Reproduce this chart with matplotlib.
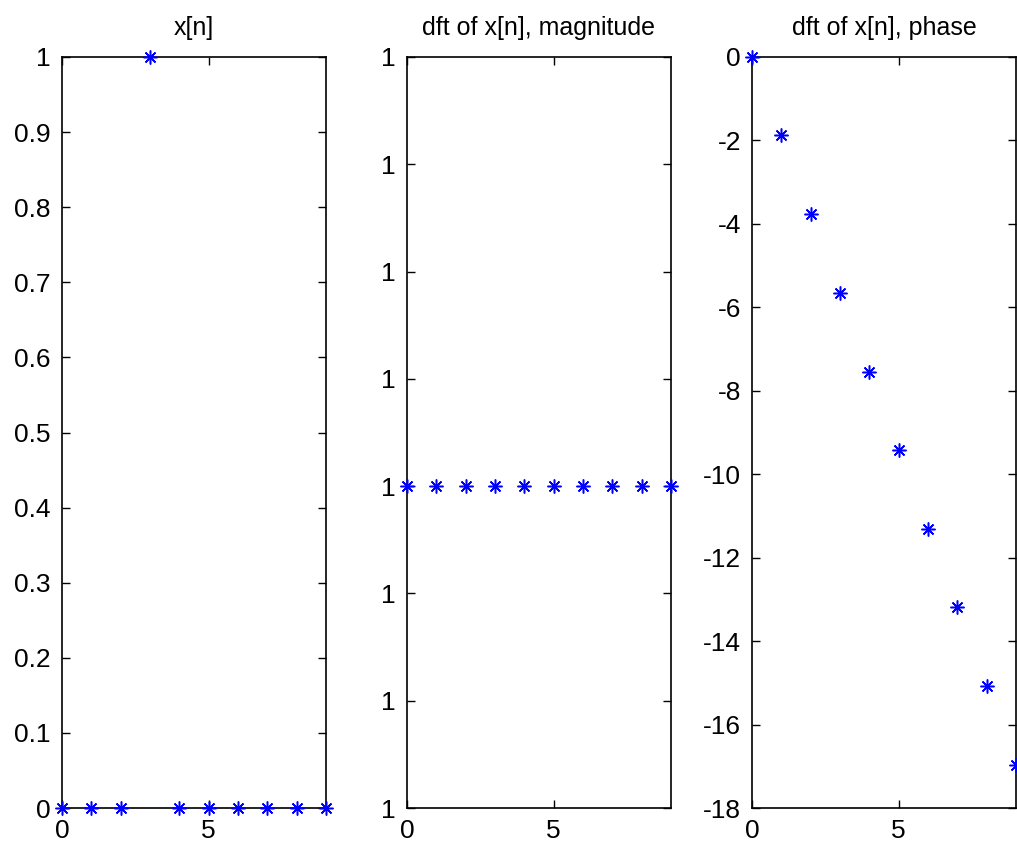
import numpy as np
import matplotlib
matplotlib.use("Agg")
import matplotlib.pyplot as plt

plt.rcParams["font.family"] = ["Liberation Sans Narrow", "Liberation Sans", "DejaVu Sans"]
plt.rcParams["axes.unicode_minus"] = False

n = [0, 1, 2, 3, 4, 5, 6, 7, 8, 9]
x = [0, 0, 0, 1, 0, 0, 0, 0, 0, 0]
mag = [1, 1, 1, 1, 1, 1, 1, 1, 1, 1]
phase = [0, -1.88, -3.77, -5.65, -7.54, -9.42, -11.31, -13.19, -15.08, -16.96]
titles = ["x[n]", "dft of x[n], magnitude", "dft of x[n], phase"]

fig = plt.figure(figsize=(10.17, 8.43), dpi=100)
fig.patch.set_facecolor("white")

lefts = [62, 407, 752]
top, bottom, width = 57, 808, 264
W, H = 1017, 843

axes = []
for l in lefts:
    ax = fig.add_axes([l / W, 1 - bottom / H, width / W, (bottom - top) / H])
    axes.append(ax)

mk = dict(linestyle="None", marker=(8, 2, 0), markersize=10, color="blue",
          markeredgewidth=1.1, clip_on=False, zorder=5)

ax1, ax2, ax3 = axes
ax1.plot(n, x, **mk)
ax1.set_ylim(0, 1)
ax1.set_yticks(np.arange(0, 1.01, 0.1))
ax1.set_yticklabels(["0", "0.1", "0.2", "0.3", "0.4", "0.5", "0.6", "0.7", "0.8", "0.9", "1"])

ax2.plot(n, mag, **mk)
d = 0.1
ax2.set_ylim(1 - 3 * d, 1 + 4 * d)
ax2.set_yticks([1 + k * d for k in range(-3, 5)])
ax2.set_yticklabels(["1"] * 8)

ax3.plot(n, phase, **mk)
ax3.set_ylim(-18, 0)
ax3.set_yticks(range(-18, 1, 2))

for ax, t in zip(axes, titles):
    ax.set_xlim(0, 9)
    ax.set_xticks([0, 5])
    ax.set_title(t, fontsize=18, pad=16)
    ax.tick_params(direction="in", length=6, width=1, labelsize=19,
                   top=True, right=True, pad=8)
    for s in ax.spines.values():
        s.set_linewidth(1.2)

fig.savefig("out.png", dpi=100, facecolor="white")
